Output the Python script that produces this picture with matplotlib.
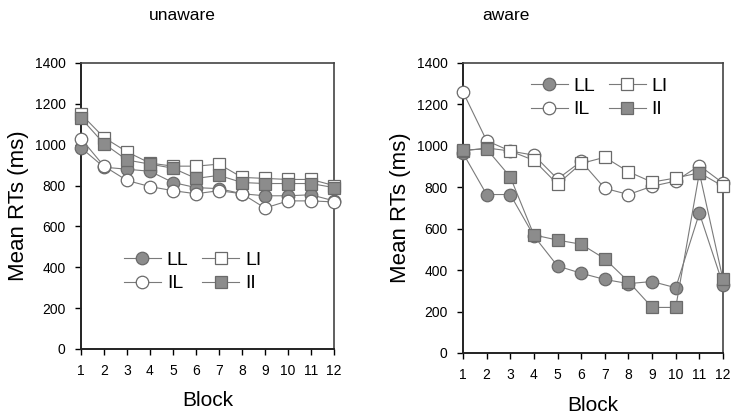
import matplotlib
matplotlib.use("Agg")
import matplotlib.pyplot as plt
import numpy as np

plt.rcParams['font.family'] = ['Liberation Sans', 'DejaVu Sans']

blocks = np.arange(1, 13)
block_labels = [str(b) for b in blocks]
yticks = [0, 200, 400, 600, 800, 1000, 1200, 1400]

# unaware group, mean RT per block
unaware_LL = [985, 890, 880, 870, 815, 790, 785, 760, 750, 750, 755, 725]
unaware_LI = [1150, 1035, 965, 910, 895, 895, 905, 840, 835, 830, 830, 800]
unaware_IL = [1030, 895, 825, 795, 775, 760, 775, 760, 690, 725, 725, 720]
unaware_II = [1130, 1005, 925, 905, 885, 835, 850, 815, 810, 810, 810, 790]

# aware group, mean RT per block
aware_LL = [965, 765, 765, 565, 420, 385, 355, 335, 345, 315, 675, 330]
aware_LI = [975, 990, 975, 930, 815, 915, 945, 875, 825, 845, 870, 805]
aware_IL = [1260, 1025, 975, 955, 840, 925, 795, 765, 805, 830, 905, 820]
aware_II = [980, 985, 850, 570, 545, 525, 455, 345, 220, 220, 870, 355]

line_col = '#7a7a7a'
fill_col = '#8c8c8c'
edge_col = '#6a6a6a'
styles = {
    'LL': dict(marker='o', mfc=fill_col, mec=edge_col),
    'LI': dict(marker='s', mfc='white', mec=edge_col),
    'IL': dict(marker='o', mfc='white', mec=edge_col),
    'II': dict(marker='s', mfc=fill_col, mec=edge_col),
}

fig = plt.figure(figsize=(7.32, 4.17), dpi=100)
W, H = 732, 417


def axes_px(x0, x1, ytop, ybot):
    return fig.add_axes([x0 / W, 1 - ybot / H, (x1 - x0) / W, (ybot - ytop) / H])


def draw(ax, series, legend_anchor, xlabel_pad):
    handles = []
    for name, vals in series:
        st = styles[name]
        h, = ax.plot(blocks, vals, color=line_col, lw=0.8, ms=9, mew=0.9,
                     label=name, clip_on=False, zorder=3, **st)
        handles.append(h)
    ax.set_xlim(1, 12)
    ax.set_ylim(0, 1400)
    ax.set_xticks(blocks)
    ax.set_xticklabels(block_labels)
    ax.set_yticks(yticks)
    ax.tick_params(direction='out', length=4, width=1, labelsize=10, pad=7)
    for s in ('left', 'bottom'):
        ax.spines[s].set_linewidth(1.4)
        ax.spines[s].set_color('#222222')
    for s in ('top', 'right'):
        ax.spines[s].set_linewidth(1.2)
        ax.spines[s].set_color('#444444')
    # plotted order is LL, IL, LI, II -> columns (LL, IL) and (LI, II)
    ax.legend(handles, [h.get_label() for h in handles], ncol=2,
              loc='center left', bbox_to_anchor=legend_anchor,
              frameon=False, fontsize=14, handlelength=1.9, handletextpad=0.3,
              columnspacing=0.7, labelspacing=0.3, borderaxespad=0.0,
              borderpad=0.0)
    ax.set_ylabel('Mean RTs (ms)', fontsize=16, labelpad=4)
    ax.set_xlabel('Block', fontsize=15, labelpad=xlabel_pad)


ax1 = axes_px(81, 334, 63, 349)
draw(ax1, [('LL', unaware_LL), ('IL', unaware_IL), ('LI', unaware_LI), ('II', unaware_II)],
     (0.17, 0.27), 9)

ax2 = axes_px(463, 723, 63, 353)
draw(ax2, [('LL', aware_LL), ('IL', aware_IL), ('LI', aware_LI), ('II', aware_II)],
     (0.26, 0.88), 10)

fig.text(182 / W, 1 - 16 / H, 'unaware', ha='center', va='center', fontsize=12.5)
fig.text(506 / W, 1 - 16 / H, 'aware', ha='center', va='center', fontsize=12.5)

fig.savefig('out.png', dpi=100)
